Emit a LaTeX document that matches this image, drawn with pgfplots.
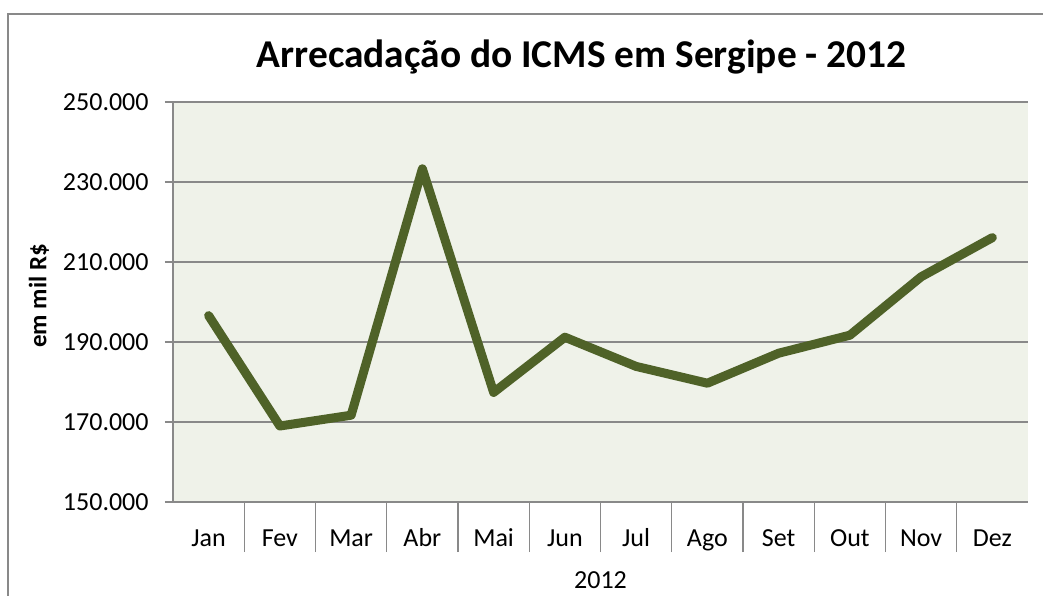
\documentclass[border=0pt]{standalone}
\usepackage{pgfplots}
\pgfplotsset{compat=1.18}
\usepackage{fontspec}
\setmainfont{Carlito}
\definecolor{linegreen}{HTML}{4F6228}
\definecolor{plotbg}{HTML}{EFF2E9}
\definecolor{gridgray}{HTML}{898989}
\begin{document}
\begin{tikzpicture}
\useasboundingbox (0,0) rectangle (521.5pt,-297.5pt);
\clip (0,0) rectangle (521.5pt,-297.5pt);
\fill[white] (0,0) rectangle (521.5pt,-297.5pt);
% chart area frame (runs off the right and bottom edges)
\draw[gridgray, line width=0.65pt] (4pt,-7pt) rectangle (540pt,-320pt);
\begin{axis}[
  at={(86.5pt,-251pt)}, anchor=south west,
  scale only axis, width=427.5pt, height=200pt,
  xmin=0.5, xmax=12.5, ymin=150000, ymax=250000,
  axis x line*=bottom, axis y line*=left,
  axis line style={gridgray, line width=0.65pt, -},
  axis background/.style={fill=plotbg},
  ymajorgrids, grid style={gridgray, line width=0.65pt},
  tick align=outside,
  major tick length=4pt, minor tick length=25pt,
  tick style={gridgray, line width=0.65pt},
  ytick={150000,170000,190000,210000,230000,250000},
  scaled y ticks=false,
  yticklabel style={anchor=east, inner sep=0pt, xshift=-8pt,
    /pgf/number format/fixed, /pgf/number format/1000 sep={.},
    /pgf/number format/assume math mode=true},
  xtick={1,...,12},
  xticklabels={Jan,Fev,Mar,Abr,Mai,Jun,Jul,Ago,Set,Out,Nov,Dez},
  xtick style={draw=none},
  minor xtick={1.5,2.5,...,11.5},
  minor x tick style={draw=gridgray, line width=0.65pt},
  extra x ticks={0.5,12.5},
  extra x tick labels={},
  extra x tick style={major tick length=47pt, tick style={draw=gridgray, line width=0.65pt}},
  xticklabel style={anchor=base, yshift=-18pt},
  tick label style={font=\fontsize{13}{15}\selectfont},
  title={Arrecadação do ICMS em Sergipe - 2012},
  title style={at={(axis description cs:0.478,1)}, anchor=base, yshift=11.5pt,
    font=\fontsize{19.7}{23}\selectfont\bfseries},
  xlabel={2012},
  xlabel style={at={(axis description cs:0.5,0)}, anchor=base, yshift=-43pt,
    font=\fontsize{13}{15}\selectfont},
  ylabel={em mil R\$},
  ylabel style={at={(axis description cs:-0.1567,0.515)}, anchor=center,
    font=\fontsize{12.5}{15}\selectfont\bfseries},
]
\addplot[linegreen, line width=4.5pt, line cap=round, line join=round, mark=none]
  coordinates {(1,196600) (2,169000) (3,171700) (4,233300) (5,177400) (6,191200)
               (7,183900) (8,179700) (9,187200) (10,191700) (11,206300) (12,216100)};
\end{axis}
\end{tikzpicture}
\end{document}
